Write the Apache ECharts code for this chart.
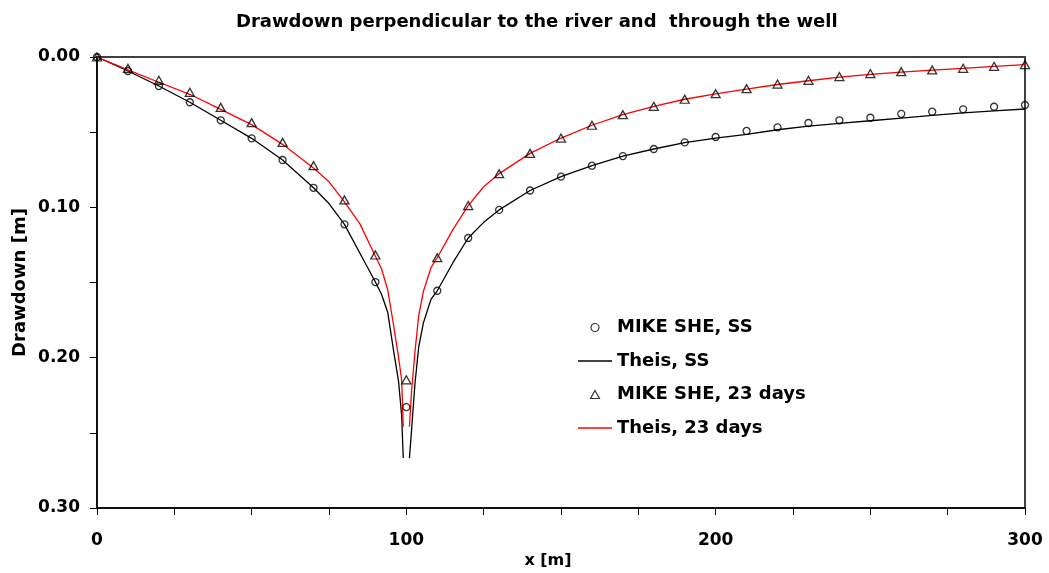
<!DOCTYPE html>
<html>
<head>
<meta charset="utf-8">
<title>Drawdown perpendicular to the river and through the well</title>
<script src="https://cdn.jsdelivr.net/npm/echarts@6/dist/echarts.min.js"></script>
<style>
  html, body { margin: 0; padding: 0; background: #fff; }
  #chart { width: 1049px; height: 573px; }
</style>
</head>
<body>
<div id="chart"></div>
<script>
// Observation points every 10 m along the section (x in metres)
const markX = [0, 10, 20, 30, 40, 50, 60, 70, 80, 90, 100, 110, 120, 130, 140, 150,
  160, 170, 180, 190, 200, 210, 220, 230, 240, 250, 260, 270, 280, 290, 300];

// MIKE SHE simulated drawdown [m], steady state
const mikeSS = [0, 0.0093, 0.0193, 0.0301, 0.0421, 0.0541, 0.0685, 0.0870, 0.1113, 0.1497,
  0.2329, 0.1555, 0.1204, 0.1017, 0.0888, 0.0796, 0.0723, 0.0659, 0.0612, 0.0568,
  0.0532, 0.0492, 0.0468, 0.0439, 0.0421, 0.0404, 0.0378, 0.0364, 0.0348, 0.0331, 0.0319];

// MIKE SHE simulated drawdown [m] after 23 days
const mike23 = [0, 0.0075, 0.0155, 0.0235, 0.0335, 0.0437, 0.0568, 0.0723, 0.0951, 0.1317,
  0.2147, 0.1335, 0.0988, 0.0776, 0.0641, 0.0539, 0.0454, 0.0384, 0.0328, 0.0281,
  0.0244, 0.0211, 0.0180, 0.0155, 0.0130, 0.0110, 0.0098, 0.0086, 0.0075, 0.0062, 0.0050];

// Analytical (Theis) profiles: x positions [m]; the well itself (x = 100) is left open
const theisX = [0, 10, 20, 30, 40, 50, 60, 70, 75, 80, 85, 90, 92, 94, 96, 97.5, 98.5, 99,
  100, 101, 101.7, 102.8, 104, 105.5, 108, 110, 115, 120, 125, 130, 140, 150, 160, 170,
  180, 190, 200, 210, 220, 230, 240, 250, 260, 270, 280, 290, 300];

// Theis drawdown [m], steady state
const theisSS = [0, 0.0093, 0.0193, 0.0301, 0.0421, 0.0541, 0.0685, 0.0870, 0.0975, 0.1113,
  0.1305, 0.1497, 0.1580, 0.1700, 0.1970, 0.2160, 0.2390, 0.2668,
  null, 0.2668, 0.2480, 0.2170, 0.1930, 0.1770, 0.1610, 0.1555, 0.1370, 0.1204, 0.1100,
  0.1017, 0.0888, 0.0796, 0.0723, 0.0659, 0.0612, 0.0570, 0.0540, 0.0514, 0.0484, 0.0460,
  0.0441, 0.0424, 0.0406, 0.0388, 0.0372, 0.0359, 0.0346];

// Theis drawdown [m] after 23 days
const theis23 = [0, 0.0085, 0.0168, 0.0248, 0.0348, 0.0450, 0.0581, 0.0738, 0.0830, 0.0964,
  0.1110, 0.1325, 0.1410, 0.1550, 0.1800, 0.2000, 0.2150, 0.2460,
  null, 0.2460, 0.2220, 0.1960, 0.1720, 0.1560, 0.1400, 0.1335, 0.1150, 0.0989, 0.0863,
  0.0776, 0.0641, 0.0539, 0.0454, 0.0384, 0.0328, 0.0281, 0.0246, 0.0213, 0.0183, 0.0158,
  0.0134, 0.0115, 0.0100, 0.0087, 0.0075, 0.0062, 0.0051];

const seriesNames = ['MIKE SHE, SS', 'Theis, SS', 'MIKE SHE, 23 days', 'Theis, 23 days'];
const xTicks = [0, 100, 200, 300];
const yTicks = [0, 0.1, 0.2, 0.3];

const FONT = 'DejaVu Sans';
const pairs = (xs, ys) => xs.map((x, i) => [x, ys[i]]);
const TRIANGLE = 'path://M5,0 L10,9 L0,9 Z';
const DASH = 'path://M0,0 L34,0 L34,1.3 L0,1.3 Z';
const hollow = { color: 'rgba(0,0,0,0)', borderColor: '#000', borderWidth: 1.2 };

const chart = echarts.init(document.getElementById('chart'), null, { renderer: 'canvas' });

chart.setOption({
  backgroundColor: '#ffffff',
  animation: false,
  title: {
    text: 'Drawdown perpendicular to the river and  through the well',
    left: 236,
    top: 13,
    padding: 0,
    textStyle: { fontFamily: FONT, fontWeight: 'bold', fontSize: 18, color: '#000' }
  },
  grid: {
    left: 97, right: 24, top: 57, bottom: 65,
    show: true,
    borderColor: '#404040',
    borderWidth: 2,
    outerBoundsMode: 'none',
    containLabel: false
  },
  legend: {
    orient: 'vertical',
    left: 573,
    top: 312,
    itemWidth: 34,
    itemHeight: 8,
    itemGap: 12.5,
    symbolKeepAspect: true,
    data: [
      { name: seriesNames[0], icon: 'circle', itemStyle: hollow },
      { name: seriesNames[1], icon: DASH, itemStyle: { color: '#000', borderWidth: 0 } },
      { name: seriesNames[2], icon: TRIANGLE, itemStyle: hollow },
      { name: seriesNames[3], icon: DASH, itemStyle: { color: '#ff0000', borderWidth: 0 } }
    ],
    textStyle: { fontFamily: FONT, fontWeight: 'bold', fontSize: 18, color: '#000', lineHeight: 21 }
  },
  xAxis: {
    type: 'value',
    min: xTicks[0],
    max: xTicks[xTicks.length - 1],
    interval: xTicks[1] - xTicks[0],
    name: 'x [m]',
    nameLocation: 'middle',
    nameGap: 45,
    nameMoveOverlap: false,
    nameTextStyle: { fontFamily: FONT, fontWeight: 'bold', fontSize: 16, color: '#000', padding: [0, 26, 0, 0] },
    axisLine: { show: true, onZero: false, lineStyle: { color: '#000', width: 1.5 } },
    axisTick: { show: true, inside: false, length: 7, lineStyle: { color: '#000', width: 1 } },
    minorTick: { show: true, splitNumber: 4, length: 7, lineStyle: { color: '#000', width: 1 } },
    axisLabel: { margin: 24, fontFamily: FONT, fontWeight: 'bold', fontSize: 17, color: '#000' },
    splitLine: { show: false },
    minorSplitLine: { show: false }
  },
  yAxis: {
    type: 'value',
    inverse: true,
    min: yTicks[0],
    max: yTicks[yTicks.length - 1],
    interval: yTicks[1] - yTicks[0],
    name: 'Drawdown [m]',
    nameLocation: 'middle',
    nameRotate: 90,
    nameGap: 68,
    nameMoveOverlap: false,
    nameTextStyle: { fontFamily: FONT, fontWeight: 'bold', fontSize: 18, color: '#000' },
    axisLine: { show: true, onZero: false, lineStyle: { color: '#000', width: 1.5 } },
    axisTick: { show: true, inside: false, length: 7, lineStyle: { color: '#000', width: 1 } },
    minorTick: { show: true, splitNumber: 2, length: 7, lineStyle: { color: '#000', width: 1 } },
    axisLabel: {
      margin: 17, fontFamily: FONT, fontWeight: 'bold', fontSize: 17, color: '#000',
      formatter: v => v.toFixed(2)
    },
    splitLine: { show: false },
    minorSplitLine: { show: false }
  },
  series: [
    {
      name: seriesNames[0],
      type: 'scatter',
      data: pairs(markX, mikeSS),
      symbol: 'circle',
      symbolSize: 7,
      clip: false,
      z: 4,
      itemStyle: { color: 'rgba(0,0,0,0)', borderColor: '#000', borderWidth: 1.3 }
    },
    {
      name: seriesNames[1],
      type: 'line',
      data: pairs(theisX, theisSS),
      symbol: 'none',
      connectNulls: false,
      z: 2,
      lineStyle: { color: '#000', width: 1.3 },
      itemStyle: { color: '#000' }
    },
    {
      name: seriesNames[2],
      type: 'scatter',
      data: pairs(markX, mike23),
      symbol: TRIANGLE,
      symbolSize: [9, 8],
      symbolKeepAspect: false,
      clip: false,
      z: 4,
      itemStyle: { color: 'rgba(0,0,0,0)', borderColor: '#000', borderWidth: 1.3 }
    },
    {
      name: seriesNames[3],
      type: 'line',
      data: pairs(theisX, theis23),
      symbol: 'none',
      connectNulls: false,
      z: 3,
      lineStyle: { color: '#ff0000', width: 1.3 },
      itemStyle: { color: '#ff0000' }
    }
  ]
});
</script>
</body>
</html>
